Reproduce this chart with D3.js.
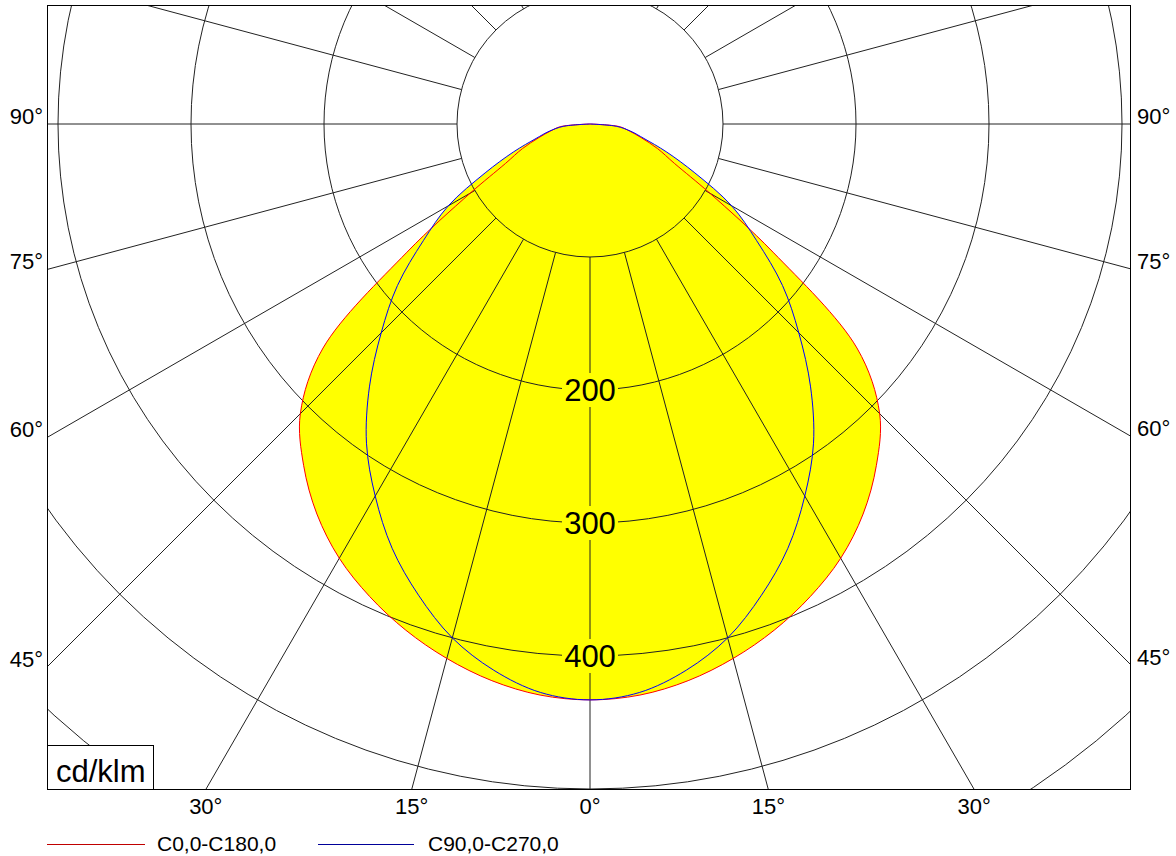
<!DOCTYPE html>
<html>
<head>
<meta charset="utf-8">
<script src="https://cdn.jsdelivr.net/npm/d3@7"></script>
<style>
  body { margin: 0; background: #fff; }
  text { font-family: "Liberation Sans", Arial, sans-serif; }
</style>
</head>
<body>
<div id="chart"></div>
<script>
// luminous intensity, cd/klm, every 5 degrees from nadir (0) to horizontal (90)
var gammas = [0, 5, 10, 15, 20, 25, 30, 35, 40, 45, 50, 55, 60, 65, 70, 75, 80, 85, 90];
var c0 = [433, 431, 425, 416, 405, 392, 377, 358, 335, 308, 262, 168, 104, 70, 54, 40, 30, 22, 0];
var c90 = [433, 429, 417, 400, 377, 352, 323, 293, 258, 222, 189, 153, 123, 87, 61, 42, 31, 20, 0];

var ringValues = [100, 200, 300, 400, 500, 600];
var ringLabels = [200, 300, 400];
var sideTicks = [90, 75, 60, 45];
var bottomTicks = [30, 15, 0, 15, 30];
var bottomTickSide = [-1, -1, 0, 1, 1];
var seriesNames = ["C0,0-C180,0", "C90,0-C270,0"];
var seriesColors = ["red", "blue"];
var legendColors = ["#c00000", "#000099"];

var width = 1176, height = 856;
var cx = 590, cy = 124;
var plotL = 47.5, plotR = 1130.5, plotT = 5.5, plotB = 789.5;

var r = d3.scaleLinear().domain([0, 100]).range([0, 133]);
var rad = d3.scaleLinear().domain([0, 180]).range([0, Math.PI]);

var svg = d3.select("#chart").append("svg")
    .attr("width", width)
    .attr("height", height);

svg.append("clipPath").attr("id", "plot")
    .append("rect")
    .attr("x", plotL).attr("y", plotT)
    .attr("width", plotR - plotL).attr("height", plotB - plotT);

var g = svg.append("g").attr("clip-path", "url(#plot)");

// polar curve, left half from 90 down to 0, then right half back up to 90
function curvePoints(vals) {
    var pts = [];
    for (var i = gammas.length - 1; i >= 0; i--) {
        var a = rad(gammas[i]);
        pts.push([cx - r(vals[i]) * Math.sin(a), cy + r(vals[i]) * Math.cos(a)]);
    }
    for (var j = 1; j < gammas.length; j++) {
        var b = rad(gammas[j]);
        pts.push([cx + r(vals[j]) * Math.sin(b), cy + r(vals[j]) * Math.cos(b)]);
    }
    return pts;
}

var line = d3.line().curve(d3.curveCatmullRom.alpha(0.5));
var series = [c0, c90];

g.selectAll("path.fill")
    .data(series)
    .enter().append("path")
    .attr("class", "fill")
    .attr("d", function(d) { return line(curvePoints(d)) + "Z"; })
    .attr("fill", "#ffff00")
    .attr("stroke", "none");

// grid circles
g.selectAll("circle.ring")
    .data(ringValues)
    .enter().append("circle")
    .attr("class", "ring")
    .attr("cx", cx).attr("cy", cy)
    .attr("r", function(d) { return r(d); })
    .attr("fill", "none")
    .attr("stroke", "#222")
    .attr("stroke-width", 1);

// radial lines every 15 degrees, starting at the first ring
g.selectAll("line.spoke")
    .data(d3.range(0, 360, 15))
    .enter().append("line")
    .attr("class", "spoke")
    .attr("x1", function(d) { return cx + r(100) * Math.sin(rad(d)); })
    .attr("y1", function(d) { return cy + r(100) * Math.cos(rad(d)); })
    .attr("x2", function(d) { return cx + r(1000) * Math.sin(rad(d)); })
    .attr("y2", function(d) { return cy + r(1000) * Math.cos(rad(d)); })
    .attr("stroke", "#222")
    .attr("stroke-width", 1);

g.selectAll("path.curve")
    .data(series)
    .enter().append("path")
    .attr("class", "curve")
    .attr("d", function(d) { return line(curvePoints(d)); })
    .attr("fill", "none")
    .attr("stroke", function(d, i) { return seriesColors[i]; })
    .attr("stroke-width", 1);

// ring value labels on the 0 degree axis
var lab = g.selectAll("g.ringlab")
    .data(ringLabels)
    .enter().append("g")
    .attr("class", "ringlab")
    .attr("transform", function(d) { return "translate(" + cx + "," + (cy + r(d)) + ")"; });

lab.append("rect")
    .attr("x", -28).attr("y", -17)
    .attr("width", 56).attr("height", 34)
    .attr("fill", "#ffff00");

lab.append("text")
    .attr("text-anchor", "middle")
    .attr("dy", "0.36em")
    .attr("font-size", 31)
    .attr("fill", "#000")
    .text(function(d) { return d; });

// frame
svg.append("rect")
    .attr("x", plotL).attr("y", plotT)
    .attr("width", plotR - plotL).attr("height", plotB - plotT)
    .attr("fill", "none")
    .attr("stroke", "#000")
    .attr("stroke-width", 1);

// unit box
svg.append("rect")
    .attr("x", plotL).attr("y", 745.5)
    .attr("width", 106).attr("height", plotB - 745.5)
    .attr("fill", "#fff")
    .attr("stroke", "#000")
    .attr("stroke-width", 1);

svg.append("text")
    .attr("x", 56).attr("y", 782)
    .attr("font-size", 31)
    .text("cd/klm");

// side angle labels
svg.selectAll("text.lside")
    .data(sideTicks)
    .enter().append("text")
    .attr("class", "lside")
    .attr("x", 43)
    .attr("y", function(d) { return cy + (cx - plotL) / Math.tan(rad(d)); })
    .attr("text-anchor", "end")
    .attr("font-size", 22)
    .text(function(d) { return d + "°"; });

svg.selectAll("text.rside")
    .data(sideTicks)
    .enter().append("text")
    .attr("class", "rside")
    .attr("x", 1137)
    .attr("y", function(d) { return cy + (plotR - cx) / Math.tan(rad(d)); })
    .attr("font-size", 22)
    .text(function(d) { return d + "°"; });

// bottom angle labels
svg.selectAll("text.btm")
    .data(bottomTicks)
    .enter().append("text")
    .attr("class", "btm")
    .attr("x", function(d, i) { return cx + bottomTickSide[i] * (plotB - cy) * Math.tan(rad(d)); })
    .attr("y", 814)
    .attr("text-anchor", "middle")
    .attr("font-size", 22)
    .text(function(d) { return d + "°"; });

// legend
var legX = [47, 318];
var leg = svg.selectAll("g.leg")
    .data(seriesNames)
    .enter().append("g")
    .attr("class", "leg")
    .attr("transform", function(d, i) { return "translate(" + legX[i] + ",844.5)"; });

leg.append("line")
    .attr("x1", 0).attr("x2", function(d, i) { return i == 0 ? 98 : 96; })
    .attr("stroke", function(d, i) { return legendColors[i]; })
    .attr("stroke-width", 1);

leg.append("text")
    .attr("x", 110)
    .attr("y", 6)
    .attr("font-size", 21)
    .text(function(d) { return d; });
</script>
</body>
</html>
